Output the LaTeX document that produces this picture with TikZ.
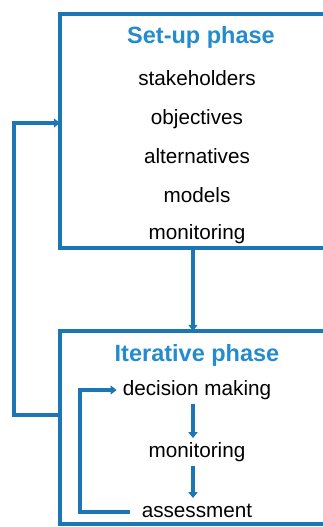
\documentclass[tikz,border=0pt]{standalone}
\usepackage{fontspec}
\setmainfont{Liberation Sans}
\usetikzlibrary{arrows.meta}
\definecolor{lineblue}{RGB}{28,118,182}
\definecolor{titleblue}{RGB}{36,140,205}
\begin{document}
\begin{tikzpicture}[x=1pt,y=-1pt,
  box/.style={draw=none,minimum width=270pt,inner sep=0pt},
  title/.style={font=\fontsize{23.5}{26}\selectfont\bfseries,text=titleblue,inner sep=3pt},
  item/.style={font=\fontsize{20.7}{24}\selectfont,text=black,inner sep=4pt,text height=15pt,text depth=4.5pt},
  arr/.style={draw=lineblue,line width=3.6pt,-{Triangle[width=9pt,length=6pt]}},
  ln/.style={draw=lineblue,line width=3.6pt}]
\useasboundingbox (0,0) rectangle (323,527);
\fill[white] (0,0) rectangle (323,527);
\node[box,minimum height=234pt] (setup) at (195,131) {};
\node[box,minimum height=193pt] (iter) at (195,427.5) {};
\draw[ln] (setup.north east) -- (setup.north west) -- (setup.south west) -- (setup.south east);
\draw[ln] (iter.north east) -- (iter.north west) -- (iter.south west) -- (iter.south east);
\coordinate (axis) at (193,0);
\node[title] (t1) at (201,37) {Set-up phase};
\node[item] (s1) at (197,80) {stakeholders};
\node[item] (s2) at (197,119) {objectives};
\node[item] (s3) at (197,158) {alternatives};
\node[item] (s4) at (197,197) {models};
\node[item] (s5) at (197,234) {monitoring};
\node[title] (t2) at (197,355) {Iterative phase};
\node[item] (dec) at (197,390) {decision making};
\node[item] (mon) at (197,452) {monitoring};
\node[item] (ass) at (197,512) {assessment};
\coordinate (fbin) at (0,123);
\coordinate (fbout) at (0,415);
\coordinate (leftx) at (14,0);
\coordinate (innerx) at (80,0);
\draw[arr] (setup.south -| axis) -- (iter.north -| axis);
\draw[arr] (iter.west |- fbout) -| (leftx |- fbin) -- (setup.west |- fbin);
\draw[arr] (dec.south -| axis) -- (mon.north -| axis);
\draw[arr] (mon.south -| axis) -- (ass.north -| axis);
\draw[arr] ([xshift=-8pt]ass.west) -| (innerx |- dec) -- ([xshift=-2pt]dec.west);
\end{tikzpicture}
\end{document}
